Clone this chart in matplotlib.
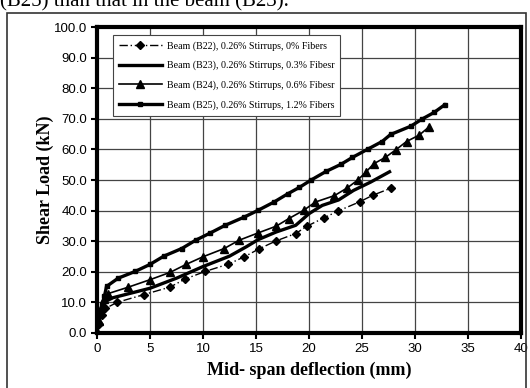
import matplotlib
matplotlib.use("Agg")
import matplotlib.pyplot as plt
from matplotlib.patches import Rectangle

# deflection (mm) / shear load (kN)
b22_x = [0, 0.2, 0.5, 0.8, 1.9, 4.4, 6.9, 8.3, 10.2, 12.4, 13.9, 15.3, 16.9, 18.75, 19.8, 21.4, 22.7, 24.8, 26.0, 27.7]
b22_y = [0, 3, 6, 8, 10.0, 12.5, 15.0, 17.6, 20.1, 22.5, 24.9, 27.5, 30.1, 32.5, 34.9, 37.6, 39.8, 42.9, 45.0, 47.3]

b23_x = [0, 0.2, 0.5, 0.8, 1.5, 5.0, 7.5, 10.0, 12.5, 14.1, 15.2, 16.9, 18.75, 20.0, 21.25, 22.8, 24.2, 25.8, 27.6]
b23_y = [0, 4, 8, 10.3, 11.5, 14.6, 17.9, 21.7, 25.1, 28.2, 30.5, 33.0, 35.2, 39.0, 41.7, 43.5, 46.6, 49.3, 52.7]

b24_x = [0, 0.2, 0.4, 0.7, 1.0, 2.9, 5.0, 6.9, 8.4, 10.0, 12.0, 13.4, 15.2, 16.9, 18.1, 19.5, 20.6, 22.4,
         23.6, 24.6, 25.4, 26.1, 27.2, 28.2, 29.2, 30.4, 31.3]
b24_y = [0, 4, 8, 11, 12.8, 14.9, 17.4, 19.8, 22.4, 24.9, 27.6, 30.3, 32.7, 34.9, 37.4, 40.1, 42.8, 44.9,
         47.4, 50.0, 52.7, 55.3, 57.4, 59.9, 62.6, 64.7, 67.3]

b25_x = [0, 0.1, 0.3, 0.5, 0.7, 0.9, 2.0, 3.6, 5.0, 6.3, 8.0, 9.3, 10.7, 12.1, 13.9, 15.2, 16.7, 18.0, 19.1,
         20.2, 21.6, 23.0, 24.1, 25.6, 26.9, 27.7, 29.6, 30.7, 31.8, 32.8]
b25_y = [0, 3, 6, 9, 12, 15.2, 17.9, 20.1, 22.4, 25.1, 27.6, 30.3, 32.7, 35.2, 37.9, 40.1, 42.8, 45.5, 47.6,
         50.0, 52.8, 55.1, 57.4, 60.2, 62.6, 64.9, 67.6, 70.0, 72.1, 74.6]

labels = ['Beam (B22), 0.26% Stirrups, 0% Fibers',
          'Beam (B23), 0.26% Stirrups, 0.3% Fibesr',
          'Beam (B24), 0.26% Stirrups, 0.6% Fibesr',
          'Beam (B25), 0.26% Stirrups, 1.2% Fibers']

fig = plt.figure(figsize=(5.3, 3.88), dpi=100)
ax = fig.add_axes([0.183, 0.142, 0.8, 0.788])

ax.plot(b22_x, b22_y, color='black', lw=1, ls=(0, (6, 2, 1, 2)), marker='D', ms=4.5, label=labels[0])
ax.plot(b23_x, b23_y, color='black', lw=2.4, label=labels[1])
ax.plot(b24_x, b24_y, color='black', lw=1.2, marker='^', ms=6, label=labels[2])
ax.plot(b25_x, b25_y, color='black', lw=2.4, marker='s', ms=2.5, label=labels[3])

ax.set_xlim(0, 40)
ax.set_ylim(0, 100)
ax.set_xticks(range(0, 41, 5))
ax.set_yticks(range(0, 101, 10))
ax.set_yticklabels(['%.1f' % v for v in range(0, 101, 10)])
ax.grid(True, color='#444444', lw=0.9)
ax.set_axisbelow(True)
for s in ax.spines.values():
    s.set_linewidth(3)
ax.tick_params(direction='out', length=4, width=1.5, labelsize=9.5, pad=3)
for t in ax.get_xticklabels() + ax.get_yticklabels():
    t.set_fontfamily('Liberation Sans')

ax.set_xlabel('Mid- span deflection (mm)', family='Liberation Serif', weight='bold', fontsize=13, labelpad=5)
ax.set_ylabel('Shear Load (kN)', family='Liberation Serif', weight='bold', fontsize=13, labelpad=0)

leg = ax.legend(loc='upper left', bbox_to_anchor=(0.025, 0.99), prop={'family': 'Liberation Serif', 'size': 7.2},
                handlelength=4.3, handletextpad=0.5, fancybox=False, framealpha=1, edgecolor='#444444',
                labelspacing=1.0, borderpad=0.6)
leg.get_frame().set_linewidth(0.8)

fig.patches.append(Rectangle((0.013, -0.01), 0.98, 0.976, transform=fig.transFigure,
                             fill=False, edgecolor='#333333', lw=1.2))
fig.text(0.0, 0.982, '(B25) than that in the beam (B23).', family='Liberation Serif', fontsize=15,
         va='baseline', ha='left')

fig.savefig('out.png', dpi=100)
